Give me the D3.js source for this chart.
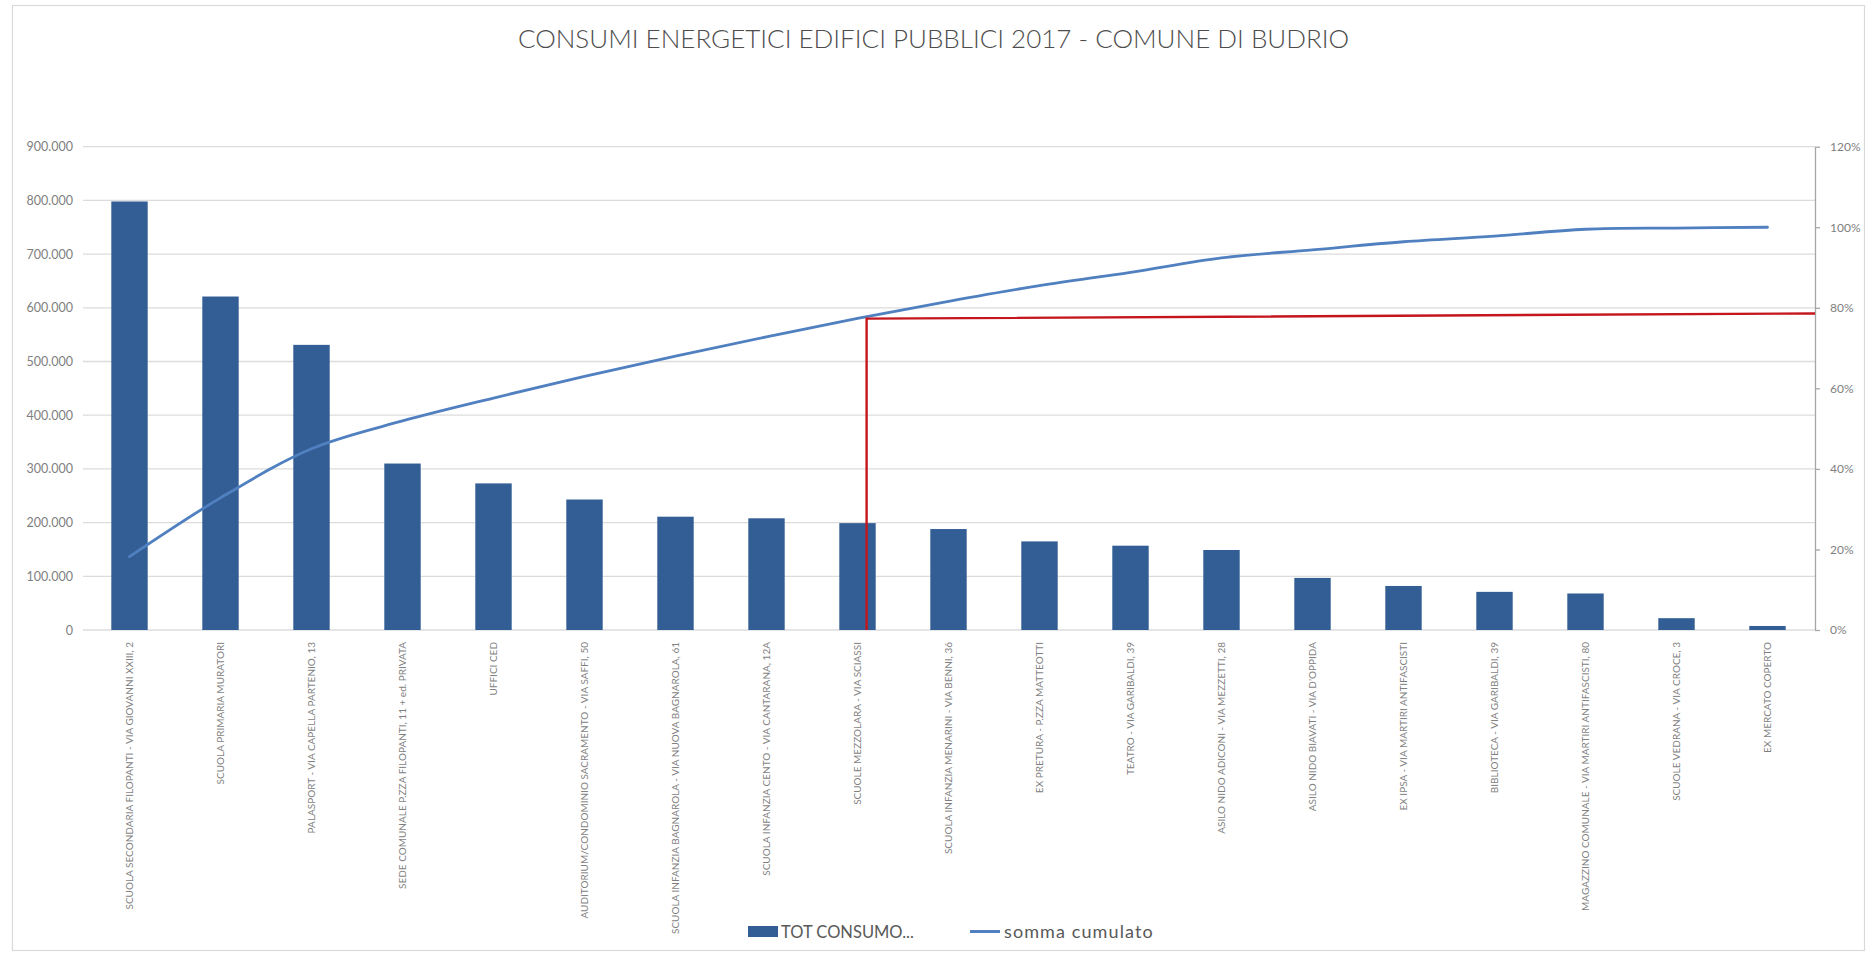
<!DOCTYPE html>
<html>
<head>
<meta charset="utf-8">
<script src="https://cdn.jsdelivr.net/npm/d3@7"></script>
<style>
  html, body { margin: 0; padding: 0; background: #ffffff; }
  svg { display: block; }
</style>
</head>
<body>
<svg id="chart" width="1867" height="953"></svg>
<script>
// Edifici pubblici, in ordine decrescente di consumo
const categories = [
  "SCUOLA SECONDARIA FILOPANTI - VIA GIOVANNI XXIII, 2",
  "SCUOLA PRIMARIA MURATORI",
  "PALASPORT - VIA CAPELLA PARTENIO, 13",
  "SEDE COMUNALE P.ZZA FILOPANTI, 11 + ed. PRIVATA",
  "UFFICI CED",
  "AUDITORIUM/CONDOMINIO SACRAMENTO - VIA SAFFI, 50",
  "SCUOLA INFANZIA BAGNAROLA - VIA NUOVA BAGNAROLA, 61",
  "SCUOLA INFANZIA CENTO - VIA CANTARANA, 12A",
  "SCUOLE MEZZOLARA - VIA SCIASSI",
  "SCUOLA INFANZIA MENARINI - VIA BENNI, 36",
  "EX PRETURA - P.ZZA MATTEOTTI",
  "TEATRO - VIA GARIBALDI, 39",
  "ASILO NIDO ADICONI - VIA MEZZETTI, 28",
  "ASILO NIDO BIAVATI - VIA D'OPPIDA",
  "EX IPSA - VIA MARTIRI ANTIFASCISTI",
  "BIBLIOTECA - VIA GARIBALDI, 39",
  "MAGAZZINO COMUNALE - VIA MARTIRI ANTIFASCISTI, 80",
  "SCUOLE VEDRANA - VIA CROCE, 3",
  "EX MERCATO COPERTO"
];

// TOT CONSUMO per edificio
const consumi = [798000, 621000, 531000, 310000, 273000, 243000, 211000, 208000, 199000,
                 188000, 165000, 157000, 149000, 97000, 82000, 71000, 68000, 22000, 7500];

// somma cumulata (quota sul totale)
const cumulato = [0.182, 0.328, 0.450, 0.519, 0.576, 0.630, 0.680, 0.728, 0.774, 0.816,
                  0.855, 0.888, 0.924, 0.944, 0.964, 0.978, 0.995, 0.998, 1.000];

// soglia: posizione lungo le categorie e quote (base, angolo, bordo destro)
const sogliaPosizione = 8.1;
const sogliaValori = [0, 0.773, 0.786];

const ticksSinistra = [0, 100000, 200000, 300000, 400000, 500000, 600000, 700000, 800000, 900000];
const ticksDestra = [0, 0.2, 0.4, 0.6, 0.8, 1.0, 1.2];

const titolo = "CONSUMI ENERGETICI EDIFICI PUBBLICI 2017 - COMUNE DI BUDRIO";
const legendaVoci = ["TOT CONSUMO...", "somma cumulato"];

// ---------------------------------------------------------------
const svg = d3.select("#chart");
const W = 1867, H = 953;
const plot = { left: 84, right: 1815, top: 146.7, bottom: 630 };

const FONT = "Lato, 'Open Sans', sans-serif";
const BAR = "#325e95";
const LINE = "#5080c0";
const RED = "#c4161c";
const GRID = "#dcdcdc";
const TEXT = "#7f7f7f";

const itLocale = d3.formatLocale({ decimal: ",", thousands: ".", grouping: [3], currency: ["€", ""] });
const fmtNum = itLocale.format(",d");
const fmtPct = d3.format(".0%");

// chart area frame
svg.append("rect")
  .attr("x", 12.5).attr("y", 5.5)
  .attr("width", W - 15).attr("height", H - 8)
  .attr("fill", "#ffffff")
  .attr("stroke", "#d9d9d9").attr("stroke-width", 1.2);

const x = d3.scaleBand()
  .domain(categories)
  .range([plot.left, plot.right - 2])
  .paddingInner(0.6)
  .paddingOuter(0.3);

const yL = d3.scaleLinear().domain([0, 900000]).range([plot.bottom, plot.top]);
const yR = d3.scaleLinear().domain([0, 1.2]).range([plot.bottom, plot.top]);

const center = d => x(d) + x.bandwidth() / 2;
const xi = d3.scaleLinear()
  .domain([0, categories.length - 1])
  .range([center(categories[0]), center(categories[categories.length - 1])]);

// horizontal gridlines
svg.append("g")
  .selectAll("line")
  .data(ticksSinistra)
  .join("line")
  .attr("x1", plot.left - 1).attr("x2", plot.right)
  .attr("y1", d => yL(d)).attr("y2", d => yL(d))
  .attr("stroke", GRID).attr("stroke-width", 1.3);

// left axis (labels only)
const axL = svg.append("g")
  .attr("transform", `translate(${plot.left - 1},0)`)
  .call(d3.axisLeft(yL).tickValues(ticksSinistra).tickFormat(fmtNum).tickSize(0).tickPadding(10));
axL.select(".domain").remove();
axL.selectAll("text")
  .attr("fill", TEXT).attr("font-size", 12.5).attr("font-family", FONT);

// right axis
const axR = svg.append("g")
  .attr("transform", `translate(${plot.right},0)`)
  .call(d3.axisRight(yR).tickValues(ticksDestra).tickFormat(fmtPct).tickSize(5).tickSizeOuter(0).tickPadding(10));
axR.select(".domain").attr("stroke", "#a6a6a6").attr("stroke-width", 1.3);
axR.selectAll(".tick line").attr("stroke", "#a6a6a6").attr("stroke-width", 1.3);
axR.selectAll("text")
  .attr("fill", TEXT).attr("font-size", 12).attr("font-family", FONT);

// bars
svg.append("g")
  .selectAll("rect")
  .data(consumi)
  .join("rect")
  .attr("x", (d, i) => x(categories[i]))
  .attr("y", d => yL(d))
  .attr("width", x.bandwidth())
  .attr("height", d => yL(0) - yL(d))
  .attr("fill", BAR);

// cumulative share line
const linea = d3.line()
  .x((d, i) => center(categories[i]))
  .y(d => yR(d))
  .curve(d3.curveCatmullRom.alpha(0.5));

svg.append("path")
  .datum(cumulato)
  .attr("d", linea)
  .attr("fill", "none")
  .attr("stroke", LINE)
  .attr("stroke-width", 2.8)
  .attr("stroke-linecap", "round")
  .attr("stroke-linejoin", "round");

// threshold marker
const sogliaPunti = [
  [xi(sogliaPosizione), yR(sogliaValori[0])],
  [xi(sogliaPosizione), yR(sogliaValori[1])],
  [plot.right, yR(sogliaValori[2])]
];
svg.append("path")
  .attr("d", d3.line()(sogliaPunti))
  .attr("fill", "none")
  .attr("stroke", RED)
  .attr("stroke-width", 2.4);

// category labels, rotated
svg.append("g")
  .selectAll("text")
  .data(categories)
  .join("text")
  .attr("transform", d => `translate(${center(d) + 3.5},${plot.bottom + 12}) rotate(-90)`)
  .attr("text-anchor", "end")
  .attr("font-family", FONT)
  .attr("font-size", 10)
  .attr("fill", TEXT)
  .text(d => d);

// title
svg.append("text")
  .attr("x", W / 2).attr("y", 48)
  .attr("text-anchor", "middle")
  .attr("font-family", FONT)
  .attr("font-weight", 300)
  .attr("font-size", 26)
  .attr("fill", "#4d4d4d")
  .text(titolo);

// legend
const leg = svg.append("g");
leg.append("rect")
  .attr("x", 748).attr("y", 926).attr("width", 30).attr("height", 11)
  .attr("fill", BAR);
leg.append("text")
  .attr("x", 781).attr("y", 937.5)
  .attr("font-family", FONT).attr("font-size", 16.5)
  .attr("fill", "#595959")
  .text(legendaVoci[0]);
leg.append("line")
  .attr("x1", 970).attr("x2", 1000).attr("y1", 931.5).attr("y2", 931.5)
  .attr("stroke", LINE).attr("stroke-width", 3);
leg.append("text")
  .attr("x", 1004).attr("y", 937.5)
  .attr("font-family", FONT).attr("font-size", 18).attr("letter-spacing", 1.1)
  .attr("fill", "#595959")
  .text(legendaVoci[1]);
</script>
</body>
</html>
